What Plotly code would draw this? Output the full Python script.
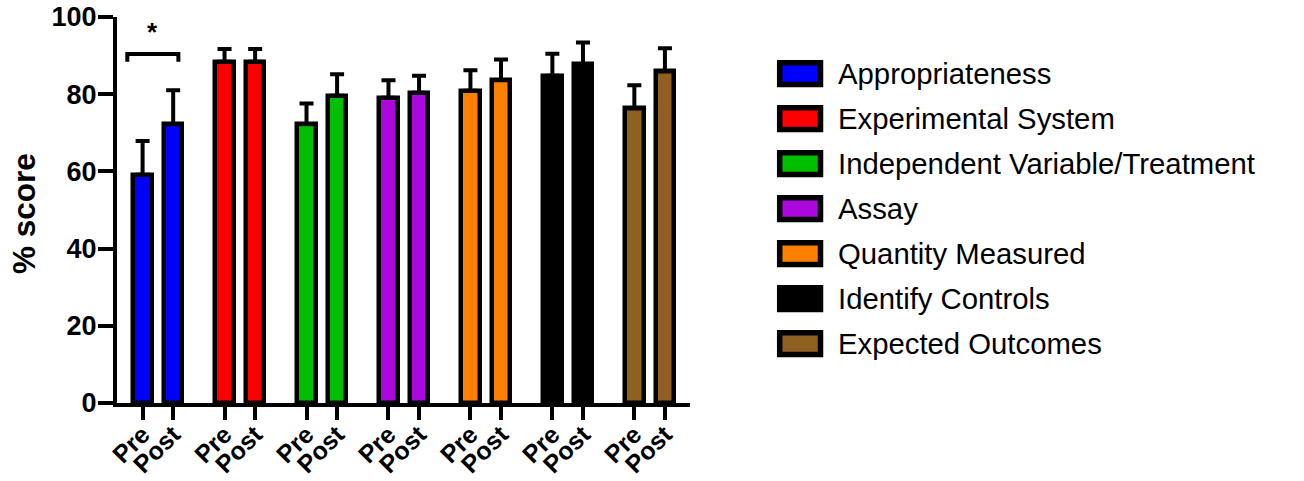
import plotly.graph_objects as go

# ---- data -------------------------------------------------------------
categories = [
    "Appropriateness",
    "Experimental System",
    "Independent Variable/Treatment",
    "Assay",
    "Quantity Measured",
    "Identify Controls",
    "Expected Outcomes",
]
colors = ["#0000FF", "#FF0000", "#00BF00", "#AA08DD", "#FF8000", "#000000", "#8F6020"]
pre_mean = [59.1, 88.4, 72.2, 79.1, 80.9, 84.8, 76.3]
pre_err = [8.8, 3.3, 5.4, 4.5, 5.3, 5.7, 6.0]
post_mean = [72.2, 88.4, 79.6, 80.4, 83.6, 87.8, 85.9]
post_err = [8.8, 3.3, 5.6, 4.4, 5.4, 5.6, 6.0]
phase_labels = ["Pre", "Post"]
y_ticks = [0, 20, 40, 60, 80, 100]

# significance bracket between Pre and Post of the first category
sig_x0, sig_x1, sig_y, sig_drop, sig_text = -0.5, 1.17, 90.4, 2.0, "*"

# ---- layout geometry ----------------------------------------------------
W, H = 1304, 481
ML, MR, MT, MB = 117, 1304 - 690, 17, 78
PW, PH = W - ML - MR, H - MT - MB
GROUP_STEP = 2.68
BAR_W = 0.6
FONT = "Liberation Sans, Arial, sans-serif"


def px_x(px):
    return (px - ML) / PW


def px_y(py):
    return (H - MB - py) / PH


fig = go.Figure()
tickvals, ticktext = [], []
for g, name in enumerate(categories):
    xs = [g * GROUP_STEP, g * GROUP_STEP + 1]
    tickvals += xs
    ticktext += phase_labels
    fig.add_trace(go.Bar(
        x=xs,
        y=[pre_mean[g], post_mean[g]],
        width=BAR_W,
        name=name,
        marker=dict(color=colors[g], line=dict(color="black", width=4.5)),
        error_y=dict(type="data", symmetric=False,
                     array=[pre_err[g], post_err[g]], arrayminus=[0, 0],
                     color="black", thickness=4, width=7),
        showlegend=False,
    ))

# significance bracket
fig.add_shape(type="path", xref="x", yref="y",
              path=f"M {sig_x0},{sig_y - sig_drop} L {sig_x0},{sig_y} L {sig_x1},{sig_y} L {sig_x1},{sig_y - sig_drop}",
              line=dict(color="black", width=4))
fig.add_annotation(x=(sig_x0 + sig_x1) / 2, y=sig_y + 1.2, xref="x", yref="y",
                   text=sig_text, showarrow=False, yanchor="bottom",
                   font=dict(family=FONT, size=26, color="black", weight=700))

# legend drawn as boxes + labels
row_y0, row_step = 73.6, 45.0
for i, name in enumerate(categories):
    cy = row_y0 + i * row_step
    fig.add_shape(type="rect", xref="paper", yref="paper",
                  x0=px_x(779.7), x1=px_x(820.5),
                  y0=px_y(cy - 10.9), y1=px_y(cy + 10.9),
                  line=dict(color="black", width=5.5), fillcolor=colors[i])
    fig.add_annotation(x=px_x(836), y=px_y(cy), xref="paper", yref="paper",
                       text=name, showarrow=False, xanchor="left", yanchor="middle",
                       font=dict(family=FONT, size=29.3, color="black"))

# y-axis title
fig.add_annotation(x=px_x(24), y=px_y(214), xref="paper", yref="paper",
                   text="% score", showarrow=False, textangle=-90,
                   xanchor="center", yanchor="middle",
                   font=dict(family=FONT, size=31.5, color="black", weight=700))

fig.update_layout(
    width=W, height=H,
    margin=dict(l=ML, r=MR, t=MT, b=MB),
    paper_bgcolor="white", plot_bgcolor="white",
    bargap=0,
    xaxis=dict(range=[-0.837, 17.9], tickvals=tickvals, ticktext=ticktext,
               tickangle=-45, showline=True, linecolor="black", linewidth=4,
               ticks="outside", ticklen=13, tickwidth=4, tickcolor="black",
               showgrid=False, zeroline=False, automargin=False,
               ticklabelstandoff=-10,
               tickfont=dict(family=FONT, size=25, color="black", weight=700)),
    yaxis=dict(range=[0, 100], tickvals=y_ticks, showline=True, linecolor="black",
               linewidth=4, ticks="outside", ticklen=15, tickwidth=4,
               tickcolor="black", showgrid=False, zeroline=False, automargin=False,
               ticklabelstandoff=-4,
               tickfont=dict(family=FONT, size=27, color="black", weight=700)),
)

fig.write_html("out.html")
